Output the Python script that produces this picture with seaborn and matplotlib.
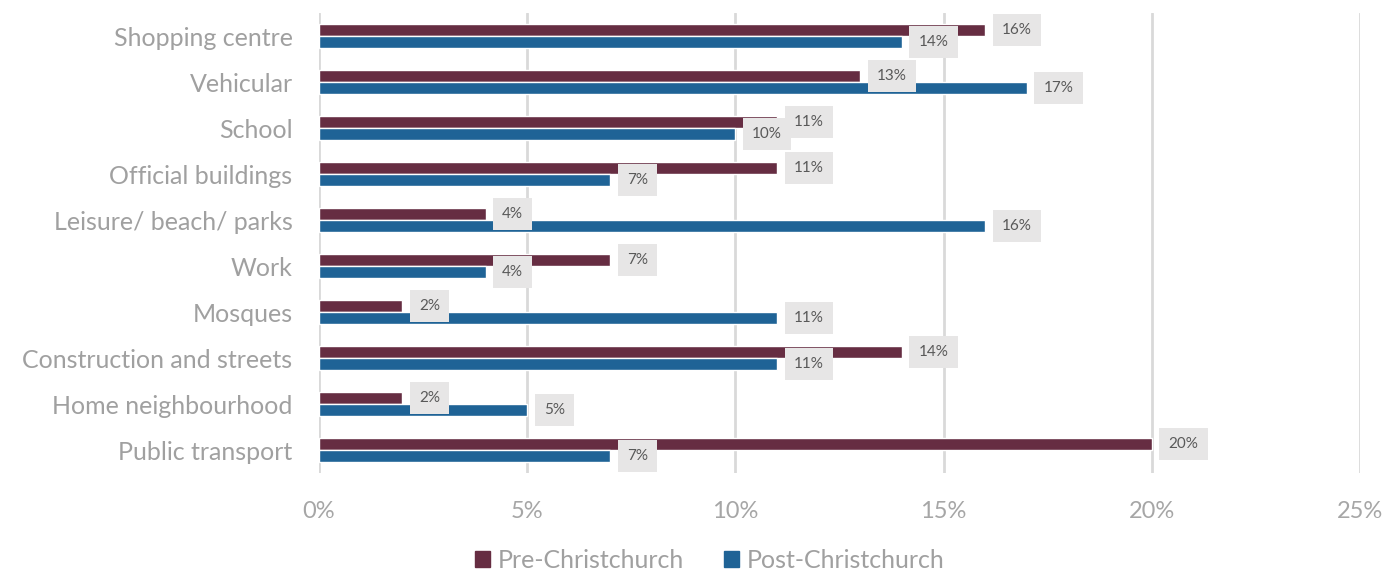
import pandas as pd
import matplotlib.pyplot as plt
import seaborn as sns
from matplotlib.patches import Patch

categories = ['Shopping centre', 'Vehicular', 'School', 'Official buildings',
              'Leisure/ beach/ parks', 'Work', 'Mosques', 'Construction and streets',
              'Home neighbourhood', 'Public transport']
pre_values = [16, 13, 11, 11, 4, 7, 2, 14, 2, 20]
post_values = [14, 17, 10, 7, 16, 4, 11, 11, 5, 7]
series = ['Pre-Christchurch', 'Post-Christchurch']
colors = ['#662D42', '#1F6396']
x_ticks = [0, 5, 10, 15, 20, 25]

df = pd.DataFrame({
    'category': categories * 2,
    'value': pre_values + post_values,
    'period': [series[0]] * len(categories) + [series[1]] * len(categories),
})

sns.set_style('white')
plt.rcParams['font.family'] = ['Lato', 'DejaVu Sans']

fig = plt.figure(figsize=(13.86, 5.76), dpi=100)
ax = fig.add_axes([319 / 1386, 1 - 473 / 576, (1360 - 319) / 1386, 460 / 576])

sns.barplot(data=df, y='category', x='value', hue='period', hue_order=series,
            order=categories, palette=colors, width=0.52, orient='h',
            saturation=1, legend=False, ax=ax)

# data labels in grey boxes
for cont in ax.containers:
    for bar in cont:
        w = bar.get_width()
        yc = bar.get_y() + bar.get_height() / 2
        ax.annotate(f'{w:.0f}%', xy=(w, yc), xytext=(12, 0), textcoords='offset points',
                    ha='left', va='center', fontsize=11, color='#595959',
                    bbox=dict(boxstyle='square,pad=0.6', fc='#E7E6E6', ec='none'))

ax.set_xlim(0, 25)
ax.set_ylim(len(categories) - 0.5, -0.5)
ax.set_xticks(x_ticks)
ax.set_xticklabels([f'{t}%' for t in x_ticks])
ax.xaxis.grid(True, color='#D9D9D9', linewidth=2)
ax.set_axisbelow(True)
for s in ax.spines.values():
    s.set_visible(False)
ax.tick_params(axis='x', length=0, pad=20, labelsize=17, labelcolor='#A6A6A6')
ax.tick_params(axis='y', length=0, pad=19, labelsize=18, labelcolor='#A0A0A0')
ax.set_xlabel('')
ax.set_ylabel('')

handles = [Patch(color=c, label=s) for c, s in zip(colors, series)]
fig.legend(handles=handles, loc='lower center', bbox_to_anchor=(0.512, -0.032), ncol=2,
           frameon=False, fontsize=18, labelcolor='#A0A0A0', handlelength=0.6,
           handleheight=0.6, handletextpad=0.3, columnspacing=1.6)

fig.savefig('out.png', dpi=100)
